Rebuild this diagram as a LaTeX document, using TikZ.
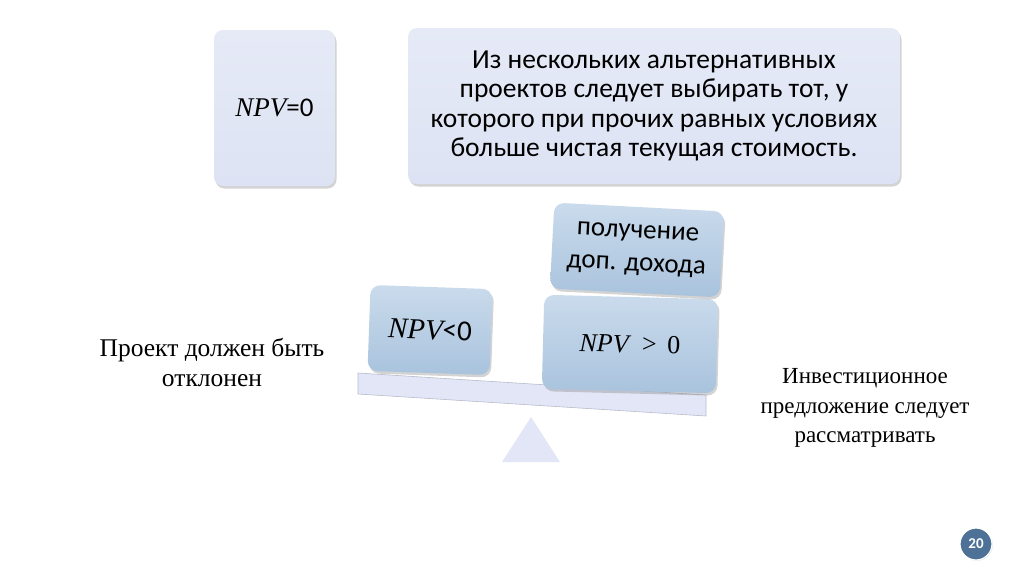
\documentclass[tikz,border=0pt]{standalone}
\usepackage{fontspec}
\setmainfont{Liberation Serif}
\newfontfamily\boxfont{Carlito}
\newfontfamily\mfont{Liberation Serif}
\newcommand{\npv}{{\mfont\itshape NPV}}
\usetikzlibrary{shadows}
\definecolor{lav}{HTML}{DDE3F4}
\definecolor{lavtop}{HTML}{E6EAF7}
\definecolor{bluetop}{HTML}{CADBEC}
\definecolor{bluebot}{HTML}{A9C3DD}
\definecolor{beamc}{HTML}{E2E6F7}
\definecolor{beamedge}{HTML}{B8BCCB}
\definecolor{pgc}{HTML}{4D7197}
\tikzset{
  topbox/.style={draw=none, rounded corners=9pt, top color=lavtop, bottom color=lav,
    drop shadow={opacity=0.35, shadow xshift=1.5pt, shadow yshift=-2.5pt},
    text=black, align=center, inner sep=0pt},
  bluebox/.style={draw=none, rounded corners=10pt, top color=bluetop, bottom color=bluebot,
    drop shadow={opacity=0.35, shadow xshift=1.5pt, shadow yshift=-2.5pt},
    text=black, align=center, inner sep=0pt},
  sidetext/.style={align=center, text=black}
}
\begin{document}
\begin{tikzpicture}[x=1pt,y=-1pt]
\useasboundingbox (0,0) rectangle (1024,574);
% top boxes
\node[topbox, minimum width=121pt, minimum height=156pt, font=\boxfont\fontsize{27}{30}\selectfont] (npv0) at (274.5,108)
  {\npv=0};
\node[topbox, minimum width=492pt, minimum height=156pt, font=\boxfont\fontsize{27.5}{29.5}\selectfont] (rule) at (654,106)
  {Из нескольких альтернативных\\проектов следует выбирать тот, у\\которого при прочих равных условиях\\больше чистая текущая стоимость.};
% beam
\draw[beamedge, fill=beamc, line width=0.6pt] (358,373) -- (706,395) -- (706,416) -- (358,394) -- cycle;
\coordinate (pivot) at (531,417);
\fill[beamc] (pivot) -- (560,462) -- (502,462) -- cycle;
% lower boxes
\node[bluebox, minimum width=122pt, minimum height=86pt, rotate=-2, font=\boxfont\fontsize{29}{30}\selectfont] (neg) at (430,330)
  {\npv<0};
\node[bluebox, minimum width=174pt, minimum height=94pt, rotate=-1.5, font=\mfont\fontsize{26}{30}\selectfont] (pos) at (630,344)
  {\textit{NPV}\, >\, 0};
\node[bluebox, minimum width=170pt, minimum height=86pt, rotate=-3, font=\boxfont\fontsize{27}{33}\selectfont] (gain) at (637,250)
  {получение\\доп. дохода};
% side texts
\node[sidetext, font=\fontsize{25.5}{30}\selectfont] (left) at (212,362) {Проект должен быть\\отклонен};
\node[sidetext, font=\fontsize{23}{29.5}\selectfont] (right) at (865,408) {Инвестиционное\\предложение следует\\рассматривать};
% page number
\node[circle, fill=pgc, draw=white, line width=1.2pt, minimum size=32pt, inner sep=0pt,
  text=white, font=\boxfont\bfseries\fontsize{15}{15}\selectfont,
  drop shadow={opacity=0.25, shadow xshift=0.8pt, shadow yshift=-0.8pt}] (page) at (976,544) {20};
\end{tikzpicture}
\end{document}
